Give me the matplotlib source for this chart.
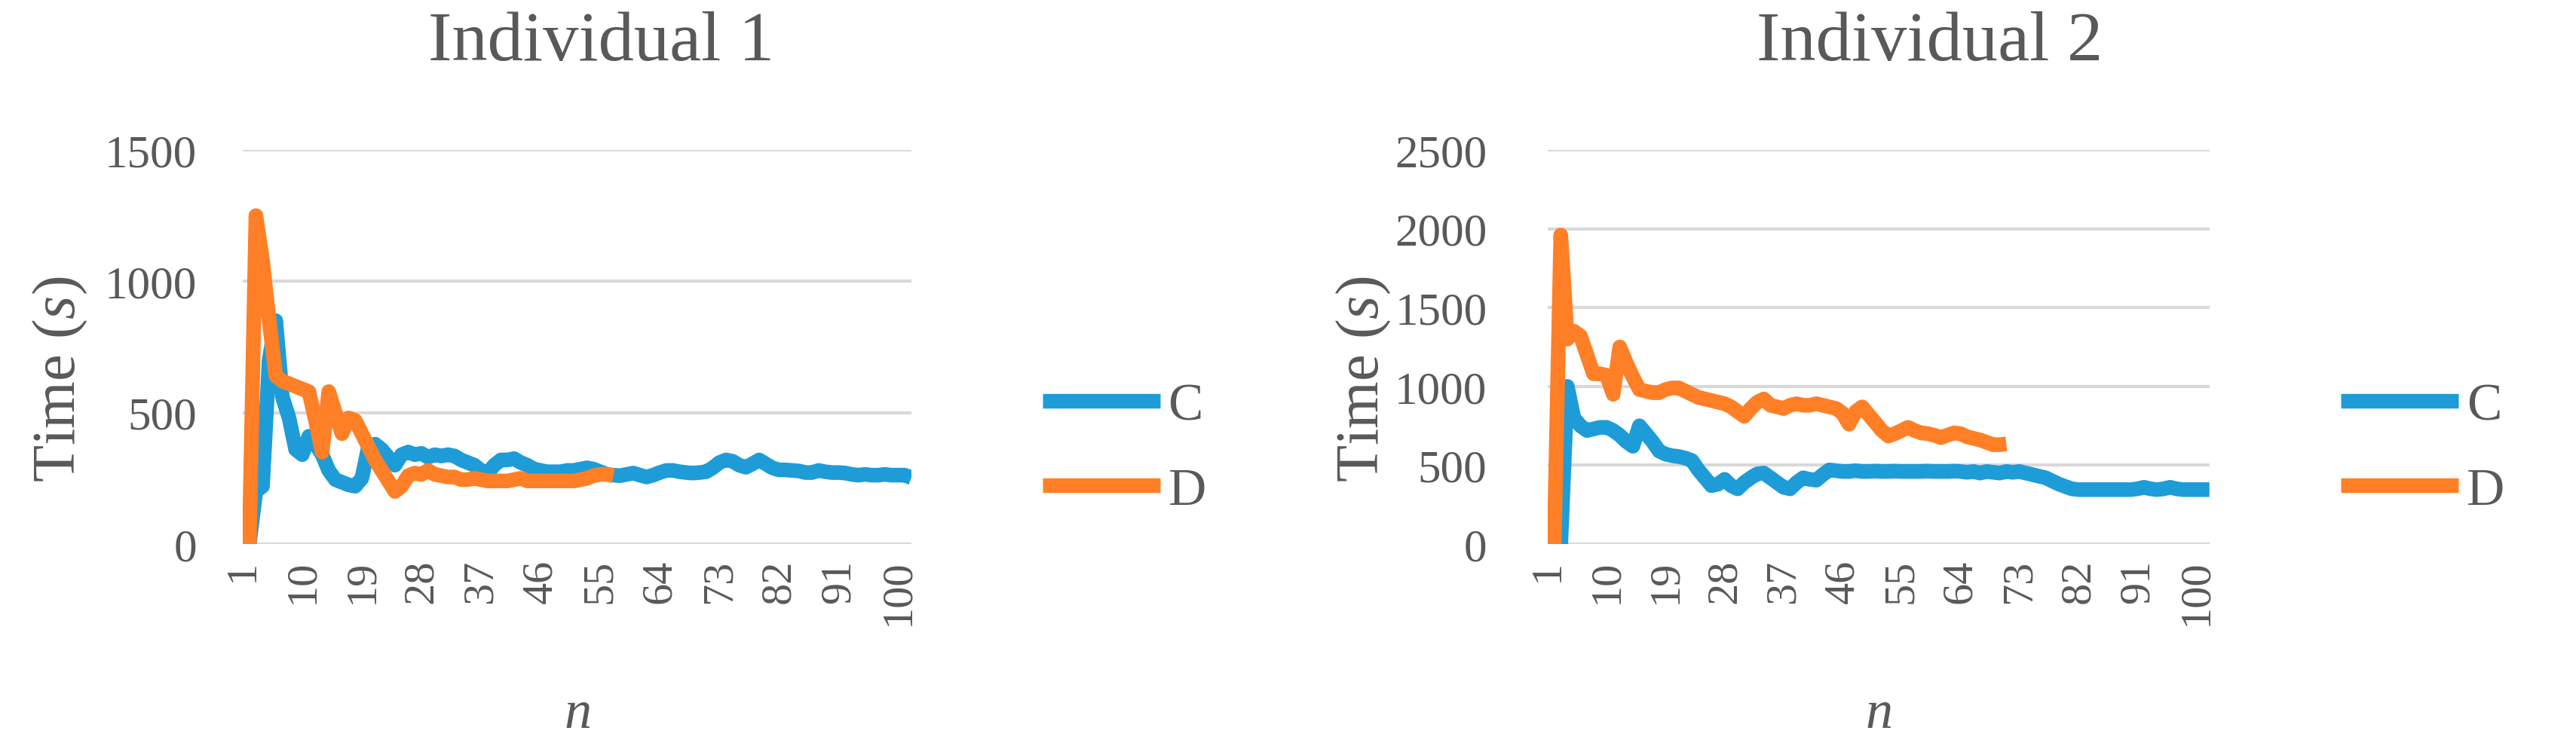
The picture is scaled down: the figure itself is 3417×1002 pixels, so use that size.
import matplotlib
matplotlib.use("Agg")
import matplotlib.pyplot as plt

plt.rcParams['font.family'] = ['Liberation Serif', 'DejaVu Serif']
plt.rcParams['mathtext.fontset'] = 'custom'
plt.rcParams['mathtext.rm'] = 'Liberation Serif'
plt.rcParams['mathtext.it'] = 'Liberation Serif:italic'

# series values (x = 1, 2, 3, ...)
ind1_C = [0, 0, 200, 220, 700, 850, 560, 480, 360, 340,
          410, 380, 340, 280, 245, 235, 225, 220, 250, 370,
          380, 360, 330, 300, 340, 350, 340, 345, 330, 340,
          335, 340, 335, 320, 310, 300, 280, 270, 300, 320,
          320, 325, 310, 300, 285, 280, 275, 275, 275, 280,
          280, 285, 290, 285, 275, 265, 262, 260, 265, 270,
          262, 255, 262, 272, 280, 280, 275, 272, 270, 272,
          275, 290, 310, 320, 315, 300, 292, 305, 320, 305,
          290, 282, 282, 280, 278, 272, 272, 280, 275, 272,
          272, 270, 265, 262, 265, 262, 262, 265, 262, 262,
          262, 252]
ind1_D = [0, 0, 1250, 1080, 850, 640, 620, 610, 600, 590,
          580, 470, 350, 580, 500, 420, 480, 470, 420, 370,
          320, 280, 240, 200, 220, 260, 270, 265, 280, 265,
          260, 255, 255, 245, 245, 250, 245, 240, 240, 240,
          240, 245, 250, 240, 240, 240, 240, 240, 240, 240,
          240, 245, 250, 260, 265, 265, 260]

ind2_C = [0, 0, 0, 1000, 800, 750, 720, 730, 740, 740,
          720, 690, 650, 620, 750, 700, 650, 590, 570, 560,
          555, 545, 530, 470, 420, 370, 380, 410, 370, 350,
          390, 420, 445, 450, 420, 390, 360, 350, 390, 420,
          410, 405, 440, 470, 465, 460, 460, 465, 460, 460,
          462, 460, 460, 462, 460, 460, 460, 460, 462, 460,
          460, 460, 462, 460, 455, 460, 450, 460, 455, 450,
          460, 455, 460, 450, 440, 430, 420, 400, 380, 365,
          350, 345, 345, 345, 345, 345, 345, 345, 345, 345,
          350, 360, 350, 345, 350, 360, 350, 345, 345, 345,
          345, 345]
ind2_D = [0, 0, 1960, 1300, 1350, 1320, 1200, 1080, 1080, 1070,
          950, 1250, 1150, 1060, 980, 970, 960, 960, 980, 990,
          990, 970, 950, 930, 920, 910, 900, 890, 870, 840,
          810, 860, 900, 920, 880, 870, 860, 880, 890, 880,
          880, 890, 880, 870, 860, 830, 760, 840, 870, 820,
          770, 720, 685, 700, 720, 740, 720, 705, 700, 690,
          675, 690, 705, 700, 680, 670, 660, 645, 630, 630,
          635]

titles = ["Individual 1", "Individual 2"]
y_max = [1500, 2500]
x_ticks = list(range(1, 101, 9))

blue = '#1E9CD8'
orange = '#FF7F27'
text_col = '#595959'
grid_col = '#D9D9D9'

fig = plt.figure(figsize=(34.17, 10.03), dpi=100)
ax1 = fig.add_axes([0.0942, 0.2792, 0.2596, 0.5214])
ax2 = fig.add_axes([0.6008, 0.2792, 0.2569, 0.5214])
legend_x = [0.4047, 0.9087]
title_x = [0.2334, 0.749]
ytick_pad = [44, 58]
ylabel_x = [-0.23, -0.235]

for i, (ax, c, d) in enumerate([(ax1, ind1_C, ind1_D), (ax2, ind2_C, ind2_D)]):
    ax.plot(range(1, len(c) + 1), c, color=blue, lw=14, label='C',
            solid_joinstyle='round', solid_capstyle='butt', zorder=3)
    ax.plot(range(1, len(d) + 1), d, color=orange, lw=14, label='D',
            solid_joinstyle='round', solid_capstyle='butt', zorder=4)

    ax.set_xlim(1, len(c))
    ax.set_ylim(0, y_max[i])
    ax.set_yticks(range(0, y_max[i] + 1, 500))
    ax.set_xticks(x_ticks)
    ax.set_xticklabels([str(t) for t in x_ticks], rotation=90)
    ax.grid(axis='y', color=grid_col, lw=3, zorder=0)
    ax.set_axisbelow(True)
    for s in ax.spines.values():
        s.set_visible(False)
    ax.tick_params(length=0, labelcolor=text_col)
    ax.tick_params(axis='y', pad=ytick_pad[i], labelsize=44)
    ax.tick_params(axis='x', pad=14, labelsize=42)

    # chart title is centred on the whole chart area, not only the plot
    fig.text(title_x[i], 0.92, titles[i], fontsize=68, color=text_col,
             ha='center', va='baseline')
    ax.set_ylabel('Time ($s$)', fontsize=58, color=text_col)
    ax.yaxis.set_label_coords(ylabel_x[i], 0.42)
    ax.set_xlabel('$n$', fontsize=52, color=text_col, labelpad=62)

    ax.legend(loc='center left', bbox_to_anchor=(legend_x[i], 0.405),
              bbox_transform=fig.transFigure, frameon=False, fontsize=50,
              handlelength=2.25, handletextpad=0.15, labelspacing=0.7,
              borderpad=0, borderaxespad=0, labelcolor=text_col)

fig.savefig('out.png', dpi=100)
